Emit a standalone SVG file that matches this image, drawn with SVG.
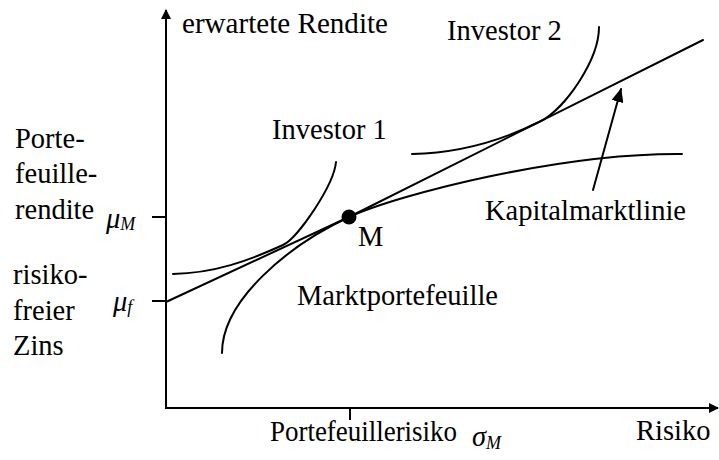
<svg xmlns="http://www.w3.org/2000/svg" width="719" height="460" viewBox="0 0 719 460">
<style>
text{font-family:"Liberation Serif","Times New Roman",serif;font-size:28.5px;fill:#000}
.it{font-style:italic}
.ln{fill:none;stroke:#000;stroke-width:2;stroke-linecap:round}
.ax{fill:none;stroke:#000;stroke-width:2}
</style>
<defs>
<marker id="ah" markerWidth="10" markerHeight="10" viewBox="0 0 10 10" refX="9" refY="5" orient="auto" markerUnits="userSpaceOnUse">
<path d="M0,0 L10,5 L0,10 z" fill="#000"/>
</marker>
<marker id="ak" markerWidth="14" markerHeight="12" viewBox="0 0 14 12" refX="13" refY="6" orient="auto" markerUnits="userSpaceOnUse">
<path d="M0,0 L14,6 L0,12 z" fill="#000"/>
</marker>
</defs>
<rect width="719" height="460" fill="#fff"/>
<g id="axes">
<line class="ax" x1="166" y1="409" x2="166" y2="10" marker-end="url(#ah)"/>
<line class="ax" x1="165" y1="408" x2="718" y2="408" marker-end="url(#ah)"/>
<line class="ax" x1="152" y1="217" x2="166" y2="217"/>
<line class="ax" x1="152" y1="301" x2="166" y2="301"/>
<line class="ax" x1="350" y1="408" x2="350" y2="420"/>
</g>
<g id="connectors">
<polyline id="cml" class="ln" points="166,302 349,217 703,40"/>
<path id="frontier" class="ln" d="M222,353 C222,300 289,245 349,217 C400,194 560,153 682,154"/>
<path id="investor1-curve" class="ln" d="M173,274 C215,273 248,261 283,245 C298,238 334,185 336,162"/>
<path id="investor2-curve" class="ln" d="M412,154 C460,153 500,141.5 540,121.5 C565,109 599,60 599,27"/>
<line id="kml-arrow" class="ln" x1="593" y1="190" x2="621" y2="89" marker-end="url(#ak)"/>
</g>
<g id="node-M">
<circle cx="349" cy="217" r="7.5" fill="#000"/>
<text x="358" y="246">M</text>
</g>
<g id="labels">
<text x="182" y="33" textLength="206" lengthAdjust="spacingAndGlyphs">erwartete Rendite</text>
<text x="447" y="40">Investor 2</text>
<text x="272" y="139">Investor 1</text>
<text x="15" y="148">Porte-</text>
<text x="15" y="183">feuille-</text>
<text x="15" y="219">rendite</text>
<text x="13" y="284">risiko-</text>
<text x="13" y="320">freier</text>
<text x="13" y="355">Zins</text>
<text x="297" y="305">Marktportefeuille</text>
<text x="485" y="220" font-size="28">Kapitalmarktlinie</text>
<text x="270" y="441" textLength="187" lengthAdjust="spacingAndGlyphs">Portefeuillerisiko</text>
<text x="636" y="440">Risiko</text>
<text class="it" x="106" y="228">μ<tspan font-size="18" dy="2">M</tspan></text>
<text class="it" x="113" y="311">μ<tspan font-size="18" dy="2">f</tspan></text>
<text class="it" x="472" y="446">σ<tspan font-size="18" dy="3">M</tspan></text>
</g>
</svg>
